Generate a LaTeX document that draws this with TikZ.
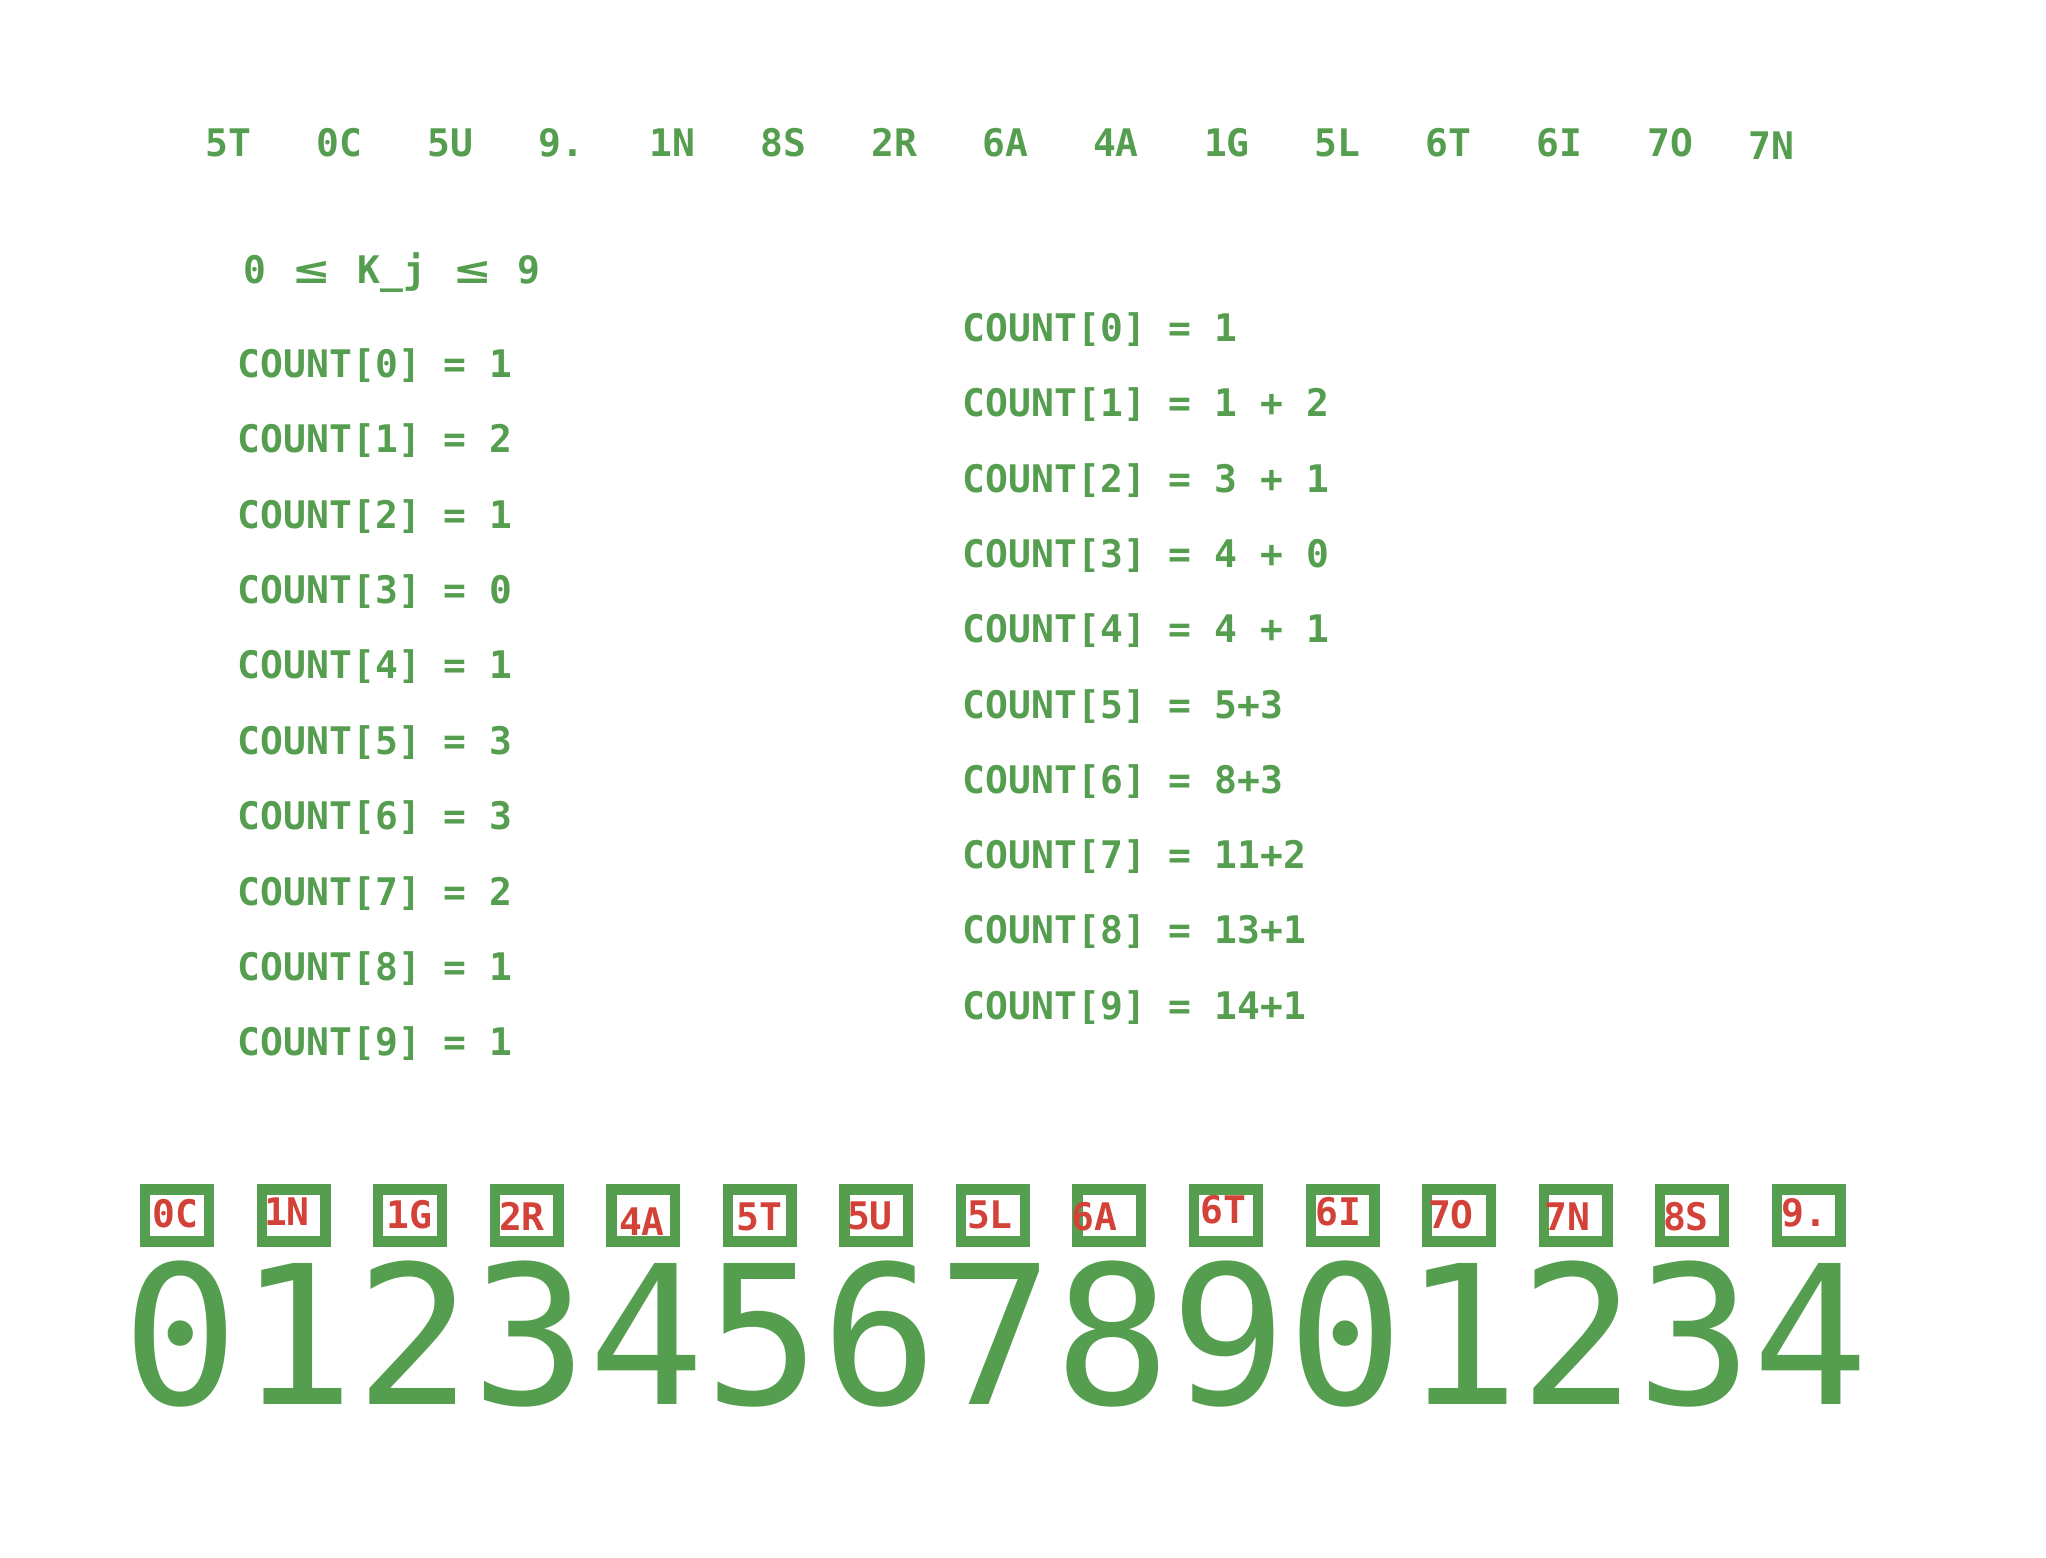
\documentclass[tikz,border=0pt]{standalone}
\usepackage{fontspec}
\setmonofont{DejaVu Sans Mono}
\usepackage{graphicx}
\usetikzlibrary{positioning}
\definecolor{cgreen}{RGB}{85,158,80}
\definecolor{cred}{RGB}{211,66,56}
\newcommand{\wideleq}{\makebox[1.204em]{\scalebox{1.5}[1]{≤}}}

\begin{document}
\begin{tikzpicture}[x=0.5pt,y=-0.5pt,
	lbl/.style={anchor=base west,inner sep=0pt,text=cgreen,font=\ttfamily\bfseries\fontsize{19pt}{23pt}\selectfont},
	tag/.style={lbl,text=cred},
	slot/.style={draw=cgreen,line width=5.15pt,minimum width=31.85pt,minimum height=26.05pt,inner sep=0pt},
	big/.style={anchor=base west,inner sep=0pt,text=cgreen,font=\ttfamily\fontsize{96.75pt}{110pt}\selectfont}]
	\useasboundingbox (0,0) rectangle (2046,1558);
	% input keys
	\foreach \t [count=\i from 0] in {5T,0C,5U,9.,1N,8S,2R,6A,4A,1G,5L,6T,6I,7O}
		\node (top\i) [lbl] at ({205.5+110.9*\i},156) {\t};
	\node (top14) [lbl] at (1748.2,159.3) {7N};
	\node (range) [lbl] at (243,283) {0 \wideleq\ K\_j \wideleq\ 9};
	% counts and running sums
	\foreach \v [count=\i from 0] in {1,2,1,0,1,3,3,2,1,1}
		\node (cnt\i) [lbl] at (237.5,{377.3+75.4*\i}) {COUNT[\i] = \v};
	\foreach \v [count=\i from 0] in {1,1 + 2,3 + 1,4 + 0,4 + 1,5+3,8+3,11+2,13+1,14+1}
		\node (sum\i) [lbl] at (962.5,{341.5+75.3*\i}) {COUNT[\i] = \v};
	% sorted output
	\foreach \t/\dx/\dy [count=\i from 0] in {0C/-25/12.2,1N/-29.9/10.2,1G/-24.1/12.8,2R/-28/14.5,4A/-24.5/19.5,5T/-23.8/15.2,5U/-29.6/13.5,5L/-26.2/12.8,6A/-38.4/15.2,6T/-26/7.8,6I/-27.5/9.5,7O/-31.4/12.8,7N/-31.3/15.2,8S/-29.5/14.5,9./-27.7/11.2}{
		\node (box\i) [slot] at ({177+116.55*\i},1215.5) {};
		\node (key\i) [tag] at ([shift={(\dx,\dy)}]box\i.center) {\t};
	}
	\node (digits) [big] at (121.75,1404.5) {012345678901234};
\end{tikzpicture}
\end{document}
